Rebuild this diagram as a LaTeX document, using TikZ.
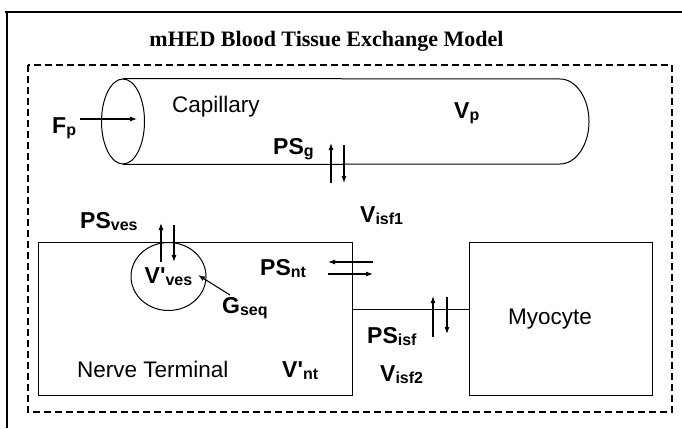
\documentclass[tikz,border=0pt]{standalone}
\usepackage{fontspec}
\setmainfont{Liberation Serif}
\newfontfamily\arialfam{Liberation Sans}
\usepackage{tikz}
\usetikzlibrary{arrows.meta,positioning,shapes.geometric,calc}
\newcommand{\indice}[1]{\raisebox{-2pt}{\fontsize{16}{16}\selectfont #1}}
\tikzset{
    compartimento/.style={
        rectangle,
        draw,
        line width=1pt,
        inner sep=0pt
    },
    vesicula/.style={
        ellipse,
        draw,
        line width=1pt,
        inner sep=0pt,
        minimum width=75pt,
        minimum height=68pt
    },
    rotulo/.style={font=\arialfam\bfseries\fontsize{23}{25}\selectfont, inner sep=0pt, anchor=base west},
    nome/.style={font=\arialfam\fontsize{22.5}{25}\selectfont, inner sep=0pt, anchor=base west},
    troca/.style={-{Latex[length=7pt,width=5pt]}, line width=1.1pt},
    regiaoTecido/.style={draw, dash pattern=on 7pt off 4pt, line width=1.2pt}
}

\begin{document}
\begin{tikzpicture}[x=1pt, y=-1pt]
        \useasboundingbox (0,0) rectangle (682,428);
        % moldura e titulo
        \draw[line width=1.3pt] (5,12) -- (682,12);
        \draw[line width=1.3pt] (7,11.35) -- (7,428);
        \node[font=\bfseries\fontsize{22}{24}\selectfont, inner sep=0pt, anchor=base] (titulo)
            at (326.5,47) {mHED Blood Tissue Exchange Model};
        \draw[regiaoTecido] (28,65) rectangle (672,412);

        % capilar
        \node[ellipse, draw, line width=1pt, inner sep=0pt,
              minimum width=43pt, minimum height=85pt] (entrada) at (123,121.5) {};
        \draw[line width=1pt] (entrada.north) -- (560,79)
            arc[start angle=-90, end angle=90, x radius=29, y radius=42.5]
            -- (entrada.south);
        \node[rotulo] (fp) at (52,133) {F\indice{p}};
        \node[nome] (capilar) at (172,112) {Capillary};
        \node[rotulo] (vp) at (454,118) {V\indice{p}};
        \node[rotulo] (psg) at (273,154) {PS\indice{g}};
        \node[rotulo] (visf1) at (360,222) {V\indice{isf1}};

        % compartimentos
        \node[compartimento, minimum width=314pt, minimum height=153pt] (terminal) at (195,318.5) {};
        \node[compartimento, minimum width=183pt, minimum height=153pt] (miocito) at (560.5,318.5) {};
        \node[vesicula, font=\arialfam\bfseries\fontsize{23}{25}\selectfont] (ves)
            at (168.5,276.5) {V'\indice{ves}};
        \node[nome] (nervo) at (77,377) {Nerve Terminal};
        \node[nome] (mio) at (508,324) {Myocyte};
        \node[rotulo] (vnt) at (282,377) {V'\indice{nt}};
        \node[rotulo] (psves) at (80,228) {PS\indice{ves}};
        \node[rotulo] (gseq) at (222,313) {G\indice{seq}};
        \node[rotulo] (psnt) at (260,275) {PS\indice{nt}};
        \node[rotulo] (psisf) at (367,343) {PS\indice{isf}};
        \node[rotulo] (visf2) at (380,381) {V\indice{isf2}};

        % pontos das setas
        \coordinate (fIni) at (80,119);   \coordinate (fFim) at (137,119);
        \coordinate (gSobe) at (331,183); \coordinate (gSobeFim) at (331,143);
        \coordinate (gDesce) at (344,145); \coordinate (gDesceFim) at (344,183);
        \coordinate (vSobe) at (161,262); \coordinate (vSobeFim) at (161,223);
        \coordinate (vDesce) at (174,225); \coordinate (vDesceFim) at (174,262);
        \coordinate (seqIni) at (230,295); \coordinate (seqFim) at (198,275);
        \coordinate (ntSai) at (373,262); \coordinate (ntSaiFim) at (328,262);
        \coordinate (ntEntra) at (328,274); \coordinate (ntEntraFim) at (373,274);
        \coordinate (iSobe) at (433,337); \coordinate (iSobeFim) at (433,296);
        \coordinate (iDesce) at (447,297); \coordinate (iDesceFim) at (447,334);
        \coordinate (nivel) at (0,309);

        \draw[line width=1pt] (terminal.east |- nivel) -- (miocito.west |- nivel);
        \draw[troca] (fIni) -- (fFim);
        \draw[troca] (gSobe) -- (gSobeFim);
        \draw[troca] (gDesce) -- (gDesceFim);
        \draw[troca] (vSobe) -- (vSobeFim);
        \draw[troca] (vDesce) -- (vDesceFim);
        \draw[troca] (seqIni) -- (seqFim);
        \draw[troca] (ntSai) -- (ntSaiFim);
        \draw[troca] (ntEntra) -- (ntEntraFim);
        \draw[troca] (iSobe) -- (iSobeFim);
        \draw[troca] (iDesce) -- (iDesceFim);
    \end{tikzpicture}
\end{document}
